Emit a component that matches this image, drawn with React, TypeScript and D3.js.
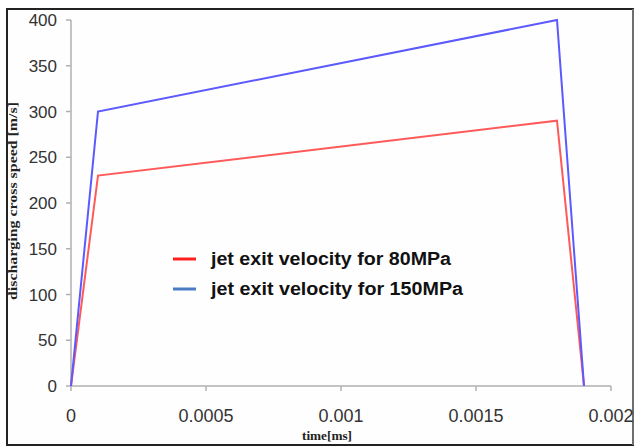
import React from "react";
import * as d3 from "d3";

const timeMs = [0, 0.0001, 0.0018, 0.0019];
const speed80 = [0, 230, 290, 0];
const speed150 = [0, 300, 400, 0];
const xTicks = [0, 0.0005, 0.001, 0.0015, 0.002];
const xTickLabels = ["0", "0.0005", "0.001", "0.0015", "0.002"];
const yTicks = [0, 50, 100, 150, 200, 250, 300, 350, 400];
const seriesNames = ["jet exit velocity for 80MPa", "jet exit velocity for 150MPa"];
const seriesColors = ["#ff5a5a", "#5a5aff"];
const legendColors = ["#ff2020", "#4a7cc4"];

const W = 635;
const H = 448;
const x0 = 71, x1 = 611;
const yTop = 20, yBot = 386;

export default function App() {
  const x = d3.scaleLinear().domain([0, 0.002]).range([x0, x1]);
  const y = d3.scaleLinear().domain([0, 400]).range([yBot, yTop]);
  const line = d3
    .line<[number, number]>()
    .x((d) => x(d[0]))
    .y((d) => y(d[1]));
  const series = [speed80, speed150].map((vals) =>
    timeMs.map((t, i) => [t, vals[i]] as [number, number])
  );
  const tickFont = "Liberation Sans, Arial, sans-serif";
  const titleFont = "Liberation Serif, Times New Roman, serif";
  const legendY = [259, 289];
  const legendLen = [240, 252];

  return (
    <svg
      width={W}
      height={H}
      style={{ position: "absolute", left: 0, top: 0, background: "#fff" }}
    >
      <rect x={0} y={0} width={W} height={H} fill="#fff" />
      {/* outer frame */}
      <rect x={7} y={9} width={626} height={436} fill="#fefefe" stroke="#222" strokeWidth={2} />
      <line x1={633} y1={9} x2={633} y2={445} stroke="#888" strokeWidth={1.5} />

      {/* y axis */}
      <line x1={x0} y1={yTop} x2={x0} y2={yBot} stroke="#b0b0b0" strokeWidth={1.5} />
      {yTicks.map((v) => (
        <g key={"y" + v}>
          <line x1={x0 - 5} y1={y(v)} x2={x0} y2={y(v)} stroke="#b0b0b0" strokeWidth={1.5} />
          <text
            x={x0 - 14}
            y={y(v)}
            dy="0.36em"
            textAnchor="end"
            fontFamily={tickFont}
            fontSize={17}
            fill="#333"
          >
            {v}
          </text>
        </g>
      ))}

      {/* x axis */}
      <line x1={x0} y1={yBot} x2={x1} y2={yBot} stroke="#b0b0b0" strokeWidth={1.5} />
      {xTicks.map((v, i) => (
        <g key={"x" + i}>
          <line x1={x(v)} y1={yBot} x2={x(v)} y2={yBot + 5} stroke="#b0b0b0" strokeWidth={1.5} />
          <text
            x={x(v)}
            y={yBot + 36}
            textAnchor="middle"
            fontFamily={tickFont}
            fontSize={18}
            fill="#333"
          >
            {xTickLabels[i]}
          </text>
        </g>
      ))}

      {/* axis titles */}
      <text
        x={302}
        y={440}
        textLength={50}
        lengthAdjust="spacingAndGlyphs"
        fontFamily={titleFont}
        fontWeight="bold"
        fontSize={13}
        fill="#222"
      >
        time[ms]
      </text>
      <text
        transform="translate(17,300) rotate(-90)"
        textLength={198}
        lengthAdjust="spacingAndGlyphs"
        fontFamily={titleFont}
        fontWeight="bold"
        fontSize={13}
        fill="#222"
      >
        discharging cross speed [m/s]
      </text>

      {/* data lines */}
      {series.map((s, i) => (
        <path
          key={"s" + i}
          d={line(s) ?? ""}
          fill="none"
          stroke={seriesColors[i]}
          strokeWidth={2}
          strokeLinejoin="miter"
        />
      ))}

      {/* legend */}
      {seriesNames.map((name, i) => (
        <g key={"l" + i}>
          <line
            x1={173}
            x2={196}
            y1={legendY[i]}
            y2={legendY[i]}
            stroke={legendColors[i]}
            strokeWidth={3}
          />
          <text
            x={211}
            y={legendY[i]}
            dy="0.36em"
            textLength={legendLen[i]}
            lengthAdjust="spacingAndGlyphs"
            fontFamily={tickFont}
            fontWeight="bold"
            fontSize={18}
            fill="#111"
          >
            {name}
          </text>
        </g>
      ))}
    </svg>
  );
}
